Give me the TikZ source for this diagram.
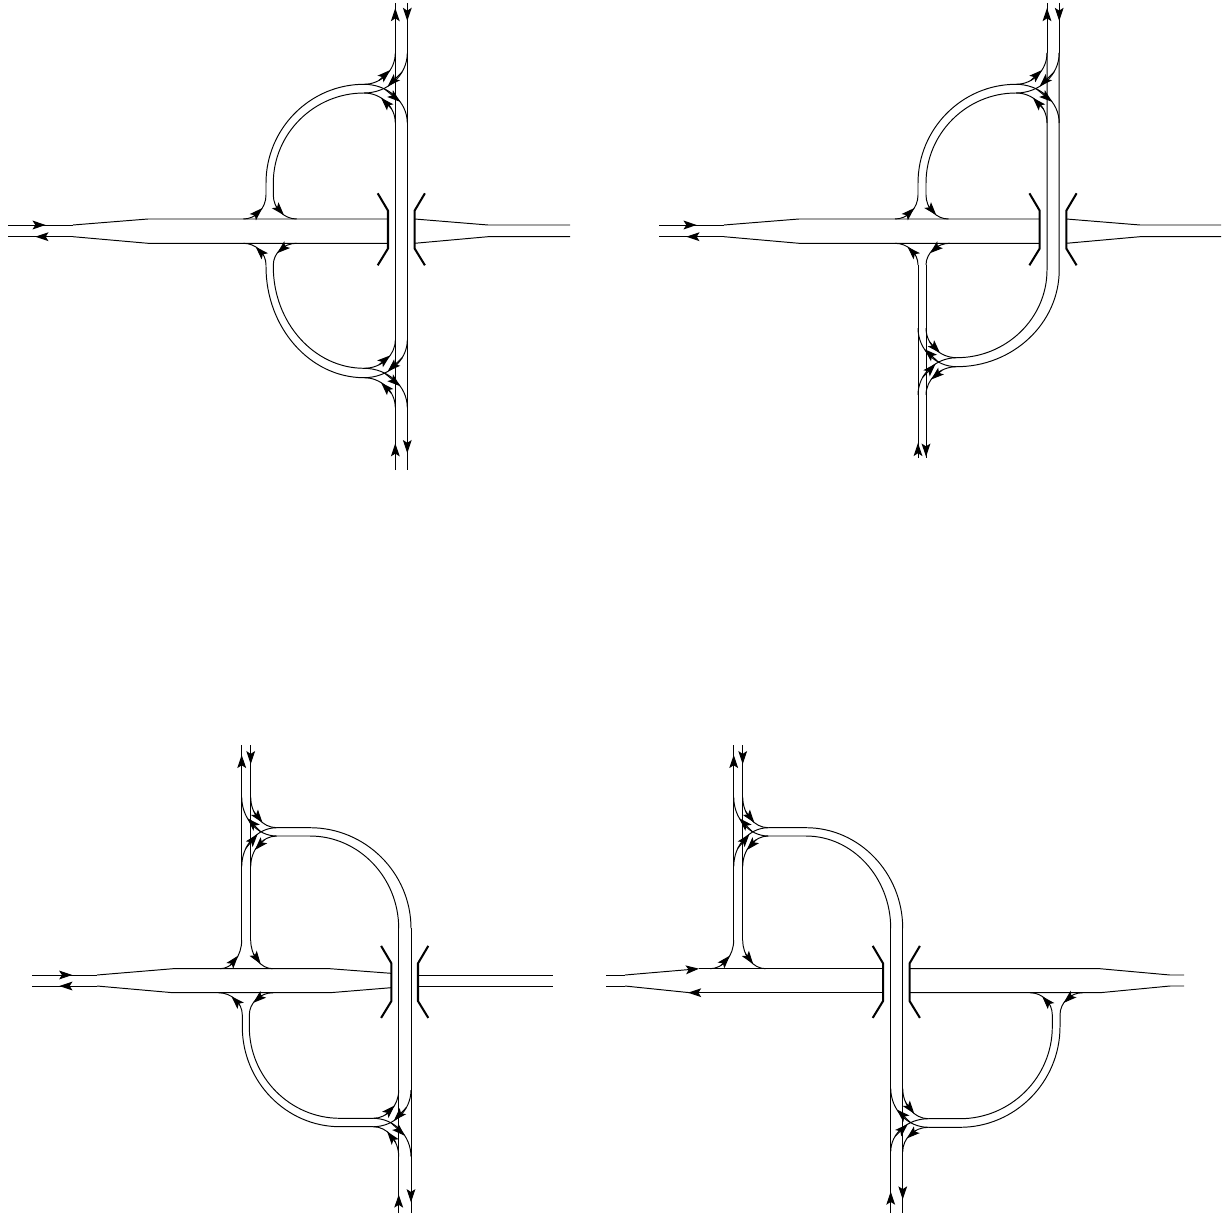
\documentclass[tikz,border=0pt]{standalone}
\usepackage{tikz}
\usetikzlibrary{arrows.meta, decorations.markings}
\newcommand{\bendhv}[4]{(#1,#2) .. controls ({#1+0.55*(#3-#1)},#2) and (#3,{#4+0.55*(#2-#4)}) .. (#3,#4)}
\newcommand{\bendvh}[4]{(#1,#2) .. controls (#1,{#2+0.55*(#4-#2)}) and ({#3+0.55*(#1-#3)},#4) .. (#3,#4)}
% a bend with its arrow head half way
\newcommand{\flowhv}[4]{
  \draw[road] \bendhv{#1}{#2}{#3}{#4};
  \draw[road, tip] ({#1+(#3-#1)*sin(28)},{#4+(#2-#4)*cos(28)}) -- ({#1+(#3-#1)*sin(57)},{#4+(#2-#4)*cos(57)});
}
\newcommand{\flowvh}[4]{
  \draw[road] \bendvh{#1}{#2}{#3}{#4};
  \draw[road, tip] ({#3+(#1-#3)*cos(28)},{#2+(#4-#2)*sin(28)}) -- ({#3+(#1-#3)*cos(57)},{#2+(#4-#2)*sin(57)});
}
% lanes x1 x2, meeting point xj, branch lines yN yS, lane ends y1 y2
\newcommand{\westknot}[7]{
  \flowhv{#3}{#4}{#1}{#6}
  \flowhv{#3}{#4}{#2}{#7}
  \flowvh{#2}{#6}{#3}{#5}
  \flowvh{#1}{#7}{#3}{#5}
}
\newcommand{\eastknot}[7]{
  \flowvh{#2}{#6}{#3}{#4}
  \flowvh{#1}{#7}{#3}{#4}
  \flowhv{#3}{#5}{#1}{#6}
  \flowhv{#3}{#5}{#2}{#7}
}
% xl x1 x2 xr, ramp end ye, main road line ym
\newcommand{\northfoot}[6]{
  \flowhv{#1}{#6}{#2}{#5}
  \flowvh{#3}{#5}{#4}{#6}
}
\newcommand{\southfoot}[6]{
  \flowvh{#2}{#5}{#1}{#6}
  \flowhv{#4}{#6}{#3}{#5}
}
\newcommand{\parapets}[2]{
  \draw[parapet] ({#1-23.6},{#2-36}) -- ({#1-13.3},{#2-18.6}) -- ({#1-13.3},{#2+19.2}) -- ({#1-23.6},{#2+36});
  \draw[parapet] ({#1+23.6},{#2-36}) -- ({#1+13.3},{#2-18.6}) -- ({#1+13.3},{#2+19.2}) -- ({#1+23.6},{#2+36});
}
\begin{document}
\begin{tikzpicture}[
  x=0.02cm, y=-0.02cm,
  road/.style={line width=0.55pt},
  parapet/.style={line width=1.15pt},
  tip/.style={-{Stealth[length=7.5pt, width=5pt, inset=1.6pt]}},
  flow/.style={postaction={decorate, decoration={markings,
    mark=at position #1 with {\arrow{Stealth[length=7.5pt, width=5pt, inset=1.6pt]}}}}}
]
\useasboundingbox (0,0) rectangle (1226,1213);

% top left
\draw[road, flow=0.58] (8,225) -- (73,225);
\draw[road] (73,225) -- (148,219) -- (387.7,219);
\draw[road] (387.7,243.3) -- (148,243.3) -- (73,236.7);
\draw[road, flow=0.58] (73,236.7) -- (8,236.7);
\draw[road] (414.6,219) -- (488,225) -- (570,225);
\draw[road] (414.6,243.3) -- (488,236.7) -- (570,236.7);
\parapets{401.3}{229.3}
\northfoot{243.3}{266}{273.3}{296.7}{195}{219}
\southfoot{243.3}{266}{273.3}{296.7}{265}{243.3}
\draw[road] (266,195) -- \bendvh{266}{183}{364}{84.3};
\draw[road] (273.3,195) -- \bendvh{273.3}{183}{364}{93};
\draw[road] (266,265) -- \bendvh{266}{266.7}{364}{377.7};
\draw[road] (273.3,265) -- \bendvh{273.3}{266.7}{364}{368.3};
\westknot{395.3}{407.3}{364}{84.3}{93}{53}{123}
\westknot{395.3}{407.3}{364}{368.3}{377.7}{340}{407.7}
\draw[road] (395.3,53) -- (395.3,407.7);
\draw[road] (407.3,53) -- (407.3,407.7);
\draw[road, flow=0.9] (395.3,53) -- (395.3,3);
\draw[road, flow=0.36] (407.3,3) -- (407.3,53);
\draw[road, flow=0.43] (395.3,470) -- (395.3,407.7);
\draw[road, flow=0.73] (407.3,407.7) -- (407.3,470);

% top right
\draw[road, flow=0.58] (659,225) -- (724,225);
\draw[road] (724,225) -- (799,219) -- (1039.4,219);
\draw[road] (1039.4,243.3) -- (799,243.3) -- (724,236.7);
\draw[road, flow=0.58] (724,236.7) -- (659,236.7);
\draw[road] (1066.3,219) -- (1140,225) -- (1221,225);
\draw[road] (1066.3,243.3) -- (1140,236.7) -- (1221,236.7);
\parapets{1053}{229.3}
\northfoot{895}{918}{926}{948.5}{195}{219}
\southfoot{895}{918}{926}{950}{265}{243.3}
\draw[road] (918,195) -- \bendvh{918}{183}{1016}{84.3};
\draw[road] (926,195) -- \bendvh{926}{183}{1016}{93};
\westknot{1047}{1059.2}{1016}{84.3}{93}{53}{123}
\draw[road] (1047,53) -- \bendvh{1047}{270}{956.7}{357.7};
\draw[road] (1059.2,53) -- \bendvh{1059.2}{270}{956.7}{366.7};
\eastknot{918}{926}{956.7}{357.7}{366.7}{328}{395}
\draw[road] (918,265) -- (918,395);
\draw[road] (926,265) -- (926,395);
\draw[road, flow=0.9] (1047,53) -- (1047,3);
\draw[road, flow=0.36] (1059.2,3) -- (1059.2,53);
\draw[road, flow=0.24] (918,458) -- (918,395);
\draw[road, flow=0.98] (926,395) -- (926,458);

% bottom left
\draw[road, flow=0.62] (32,975) -- (97,975);
\draw[road] (97,975) -- (173,968.7) -- (330,968.7) -- (391,973.3);
\draw[road] (391,987.7) -- (330,992.7) -- (173,992.7) -- (97,986);
\draw[road, flow=0.58] (97,986) -- (32,986);
\draw[road] (418,975) -- (553,975);
\draw[road] (418,986) -- (553,986);
\parapets{404.7}{981.9}
\eastknot{241.7}{250.7}{276.7}{827.7}{836}{797}{866.7}
\draw[road] (241.7,797) -- (241.7,940);
\draw[road] (250.7,797) -- (250.7,940);
\northfoot{220}{241.7}{250.7}{272.7}{940}{968.7}
\southfoot{218.3}{242.3}{249.3}{273.3}{1015}{992.7}
\draw[road] (276.7,827.7) -- \bendhv{310}{827.7}{411}{928.3};
\draw[road] (276.7,836) -- \bendhv{310}{836}{398.7}{928.3};
\draw[road] (242.3,1015) -- \bendvh{242.3}{1026.7}{340}{1126.7} -- (373.3,1126.7);
\draw[road] (249.3,1015) -- \bendvh{249.3}{1026.7}{340}{1118.3} -- (373.3,1118.3);
\westknot{398.7}{411}{373.3}{1118.3}{1126.7}{1090}{1156.7}
\draw[road] (398.7,928.3) -- (398.7,1156.7);
\draw[road] (411,928.3) -- (411,1156.7);
\draw[road, flow=0.81] (241.7,797) -- (241.7,745);
\draw[road, flow=0.37] (250.7,745) -- (250.7,797);
\draw[road, flow=0.33] (398.7,1213) -- (398.7,1156.7);
\draw[road, flow=0.81] (411,1156.7) -- (411,1213);

% bottom right
\draw[road] (606,975) -- (625,975);
\draw[road, tip] (625,975) -- (699,968.7);
\draw[road] (699,968.7) -- (883.3,968.7);
\draw[road] (606,986) -- (625,986);
\draw[road, tip] (883.3,992.7) -- (688,992.7);
\draw[road] (690,992.7) -- (625,986);
\draw[road] (909.6,968.7) -- (1100,968.7) -- (1170,975) -- (1184,975);
\draw[road] (909.6,992.7) -- (1100,992.7) -- (1170,986) -- (1184,986);
\parapets{896.3}{981.9}
\eastknot{733.7}{742.7}{768.3}{827.7}{836}{797}{866.7}
\draw[road] (733.7,797) -- (733.7,940);
\draw[road] (742.7,797) -- (742.7,940);
\northfoot{710}{733.7}{742.7}{765.7}{940}{968.7}
\draw[road] (768.3,827.7) -- \bendhv{806}{827.7}{902.7}{928.3};
\draw[road] (768.3,836) -- \bendhv{806}{836}{890.7}{928.3};
\draw[road] (890.7,928.3) -- (890.7,1151.7);
\draw[road] (902.7,928.3) -- (902.7,1151.7);
\eastknot{890.7}{902.7}{928.3}{1118.7}{1127.3}{1088.3}{1151.7}
\draw[road] (928.3,1118.7) -- \bendhv{960}{1118.7}{1052.3}{1026.7} -- (1052.3,1015);
\draw[road] (928.3,1127.3) -- \bendhv{960}{1127.3}{1060}{1026.7} -- (1060,1015);
\southfoot{1030}{1052.3}{1060}{1082.7}{1015}{992.7}
\draw[road, flow=0.81] (733.7,797) -- (733.7,745);
\draw[road, flow=0.37] (742.7,745) -- (742.7,797);
\draw[road, flow=0.35] (890.7,1213) -- (890.7,1151.7);
\draw[road, flow=0.78] (902.7,1151.7) -- (902.7,1213);
\end{tikzpicture}
\end{document}
